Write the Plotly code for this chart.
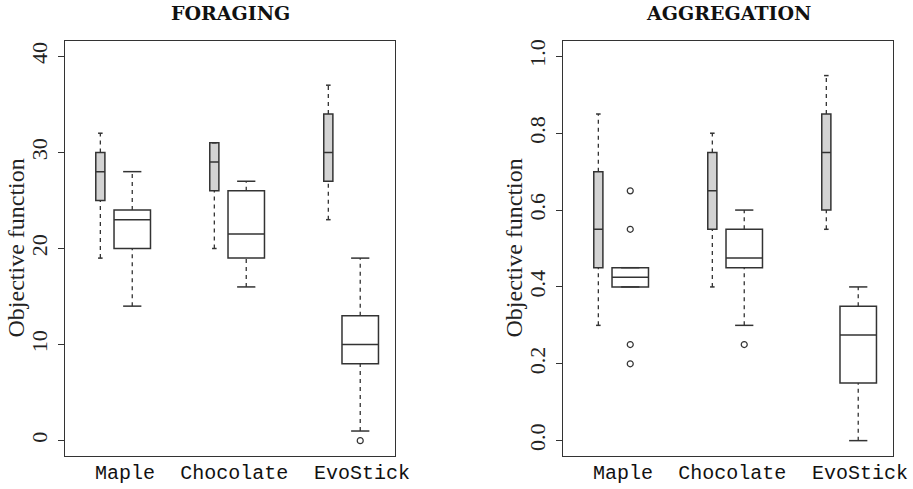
import plotly.graph_objects as go

categories = ["Maple", "Chocolate", "EvoStick"]

# FORAGING panel: grey (first) and white (second) box per category
forage_a_low = [19, 20, 23]
forage_a_q1 = [25, 26, 27]
forage_a_med = [28, 29, 30]
forage_a_q3 = [30, 31, 34]
forage_a_high = [32, 31, 37]
forage_a_out = [[], [], []]

forage_b_low = [14, 16, 1]
forage_b_q1 = [20, 19, 8]
forage_b_med = [23, 21.5, 10]
forage_b_q3 = [24, 26, 13]
forage_b_high = [28, 27, 19]
forage_b_out = [[], [], [0]]

# AGGREGATION panel
agg_a_low = [0.30, 0.40, 0.55]
agg_a_q1 = [0.45, 0.55, 0.60]
agg_a_med = [0.55, 0.65, 0.75]
agg_a_q3 = [0.70, 0.75, 0.85]
agg_a_high = [0.85, 0.80, 0.95]
agg_a_out = [[], [], []]

agg_b_low = [0.40, 0.30, 0.0]
agg_b_q1 = [0.40, 0.45, 0.15]
agg_b_med = [0.425, 0.475, 0.275]
agg_b_q3 = [0.45, 0.55, 0.35]
agg_b_high = [0.45, 0.60, 0.40]
agg_b_out = [[0.65, 0.55, 0.25, 0.20], [0.25], []]

forage_ticks = [0, 10, 20, 30, 40]
agg_ticks = [0.0, 0.2, 0.4, 0.6, 0.8, 1.0]

LINE = "#333333"
GREY = "#d3d3d3"
OFFSET = 0.14
W_GREY = 0.08
W_WHITE = 0.32
LABEL_SHIFT = [0.077, 0.035, 0.155]

fig = go.Figure()


def add_series(xa, ya, low, q1, med, q3, high, outs, shift, width, fill):
    xs = [i + 1 + shift for i in range(len(low))]
    fig.add_trace(go.Box(
        x=xs, q1=q1, median=med, q3=q3, lowerfence=q1, upperfence=q3,
        width=width, fillcolor=fill, line=dict(color=LINE, width=1.5),
        boxpoints=False, whiskerwidth=0, hoverinfo="skip", showlegend=False,
        xaxis=xa, yaxis=ya))
    # dashed whiskers
    wx, wy = [], []
    for x, a, b, c, d in zip(xs, low, q1, q3, high):
        wx += [x, x, None, x, x, None]
        wy += [a, b, None, c, d, None]
    fig.add_trace(go.Scatter(x=wx, y=wy, mode="lines",
                             line=dict(color=LINE, width=1.3, dash="4px,4px"),
                             hoverinfo="skip", showlegend=False, xaxis=xa, yaxis=ya))
    # caps
    cx, cy = [], []
    for x, a, d in zip(xs, low, high):
        h = width / 4
        cx += [x - h, x + h, None, x - h, x + h, None]
        cy += [a, a, None, d, d, None]
    fig.add_trace(go.Scatter(x=cx, y=cy, mode="lines",
                             line=dict(color=LINE, width=1.5),
                             hoverinfo="skip", showlegend=False, xaxis=xa, yaxis=ya))
    # outliers
    ox, oy = [], []
    for x, o in zip(xs, outs):
        ox += [x] * len(o)
        oy += list(o)
    if ox:
        fig.add_trace(go.Scatter(x=ox, y=oy, mode="markers",
                                 marker=dict(symbol="circle-open", size=6,
                                             color=LINE, line=dict(width=1.2, color=LINE)),
                                 hoverinfo="skip", showlegend=False, xaxis=xa, yaxis=ya))


add_series("x", "y", forage_a_low, forage_a_q1, forage_a_med, forage_a_q3, forage_a_high,
           forage_a_out, -OFFSET, W_GREY, GREY)
add_series("x", "y", forage_b_low, forage_b_q1, forage_b_med, forage_b_q3, forage_b_high,
           forage_b_out, OFFSET, W_WHITE, "white")
add_series("x2", "y2", agg_a_low, agg_a_q1, agg_a_med, agg_a_q3, agg_a_high,
           agg_a_out, -OFFSET, W_GREY, GREY)
add_series("x2", "y2", agg_b_low, agg_b_q1, agg_b_med, agg_b_q3, agg_b_high,
           agg_b_out, OFFSET, W_WHITE, "white")

W, H = 913, 489
dom_y = [(H - 456) / H, (H - 41) / H]
dom_x1 = [65 / W, 395 / W]
dom_x2 = [563 / W, 893 / W]

label_pos = [i + 1 + s for i, s in enumerate(LABEL_SHIFT)]

xcommon = dict(range=[0.55, 3.445], showgrid=False, zeroline=False, automargin=False,
               showline=True, mirror=True, linecolor=LINE, linewidth=1.3,
               ticks="", tickvals=label_pos, ticktext=categories,
               tickfont=dict(family="Liberation Mono", size=20, color="#111"),
               ticklabelstandoff=-2)
ycommon = dict(showgrid=False, zeroline=False, showline=True, mirror=True, automargin=False,
               linecolor=LINE, linewidth=1.3, ticks="outside", ticklen=6,
               tickcolor=LINE, tickwidth=1.3, tickangle=-90,
               tickfont=dict(family="Liberation Serif", size=22, color="#222"),
               ticklabelstandoff=2)

fig.update_layout(
    template="none",
    width=W, height=H, autosize=False, plot_bgcolor="white", paper_bgcolor="white",
    margin=dict(l=0, r=0, t=0, b=0, pad=0, autoexpand=False), boxmode="overlay",
    xaxis=dict(domain=dom_x1, anchor="y", **xcommon),
    yaxis=dict(domain=dom_y, anchor="x", range=[-1.6, 41.6],
               tickvals=forage_ticks, ticktext=[str(t) for t in forage_ticks], **ycommon),
    xaxis2=dict(domain=dom_x2, anchor="y2", **xcommon),
    yaxis2=dict(domain=dom_y, anchor="x2", range=[-0.04, 1.04],
                tickvals=agg_ticks, ticktext=[f"{t:.1f}" for t in agg_ticks], **ycommon),
)

titles = ["FORAGING", "AGGREGATION"]
for dom, t in zip([dom_x1, dom_x2], titles):
    fig.add_annotation(x=(dom[0] + dom[1]) / 2, y=1 - 13 / H, xref="paper", yref="paper",
                       text=f"<b>{t}</b>", showarrow=False, xanchor="center", yanchor="middle",
                       font=dict(family="DejaVu Serif", size=19, color="#111"))
    fig.add_annotation(x=(dom[0] * W - 50) / W, y=(dom_y[0] + dom_y[1]) / 2,
                       xref="paper", yref="paper", text="Objective function",
                       textangle=-90, showarrow=False, xanchor="center", yanchor="middle",
                       font=dict(family="Liberation Serif", size=24, color="#222"))

fig.write_html(
    "out.html",
    config={"displayModeBar": False, "responsive": False},
    post_script=("document.documentElement.style.margin='0';"
                 "document.documentElement.style.overflow='hidden';"
                 "document.body.style.margin='0';document.body.style.padding='0';"
                 "document.body.style.overflow='hidden';"),
)
